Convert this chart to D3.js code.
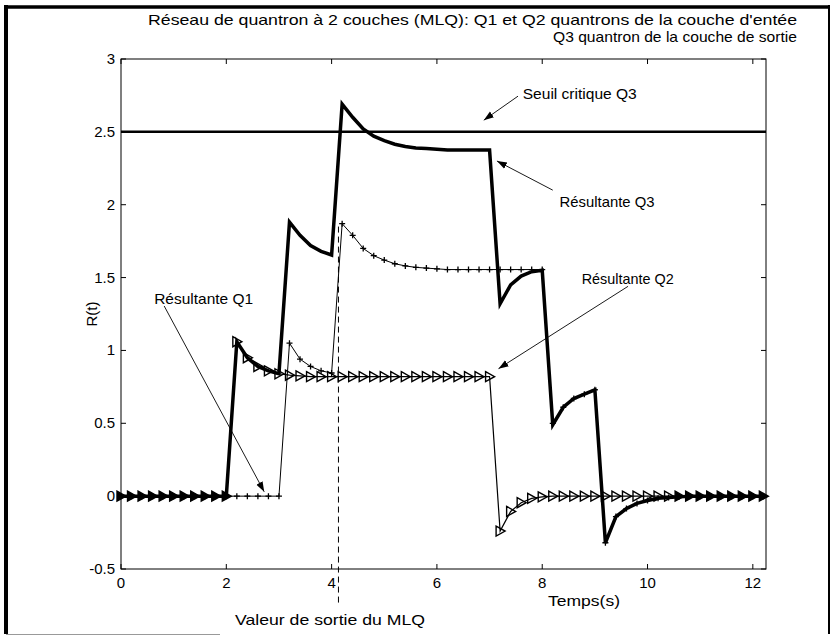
<!DOCTYPE html>
<html>
<head>
<meta charset="utf-8">
<script src="https://d3js.org/d3.v7.min.js"></script>
<style>
  body { margin: 0; background: #fff; }
  text { font-family: "Liberation Sans", Arial, sans-serif; fill: #000; }
</style>
</head>
<body>
<svg id="chart" width="834" height="637"></svg>
<script>
// temps (s), pas de 0.2 s
var temps = [0, 0.2, 0.4, 0.6, 0.8, 1, 1.2, 1.4, 1.6, 1.8, 2, 2.2, 2.4, 2.6, 2.8, 3, 3.2, 3.4, 3.6, 3.8,
  4, 4.2, 4.4, 4.6, 4.8, 5, 5.2, 5.4, 5.6, 5.8, 6, 6.2, 6.4, 6.6, 6.8, 7, 7.2, 7.4, 7.6, 7.8,
  8, 8.2, 8.4, 8.6, 8.8, 9, 9.2, 9.4, 9.6, 9.8, 10, 10.2, 10.4, 10.6, 10.8, 11, 11.2, 11.4, 11.6, 11.8,
  12, 12.2];

// Résultante Q1 (trait fin, marqueurs +)
var q1 = [0, 0, 0, 0, 0, 0, 0, 0, 0, 0, 0, 0, 0, 0, 0, 0, 1.05, 0.94, 0.89, 0.86,
  0.845, 1.87, 1.79, 1.70, 1.65, 1.62, 1.595, 1.58, 1.57, 1.565, 1.56, 1.555, 1.555, 1.555, 1.555, 1.555, 1.555, 1.555, 1.555, 1.555,
  1.555, 0.50, 0.61, 0.67, 0.70, 0.73, -0.32, -0.14, -0.085, -0.05, -0.03, -0.015, -0.01, -0.005, 0, 0, 0, 0, 0, 0,
  0, 0];

// Résultante Q2 (trait fin, triangles)
var q2 = [0, 0, 0, 0, 0, 0, 0, 0, 0, 0, 0, 1.06, 0.95, 0.89, 0.86, 0.84, 0.83, 0.825, 0.82, 0.82,
  0.82, 0.82, 0.82, 0.82, 0.82, 0.82, 0.82, 0.82, 0.82, 0.82, 0.82, 0.82, 0.82, 0.82, 0.82, 0.82, -0.24, -0.105, -0.045, -0.015,
  -0.005, 0, 0, 0, 0, 0, 0, 0, 0, 0, 0, 0, 0, 0, 0, 0, 0, 0, 0, 0,
  0, 0];

// Résultante Q3 (trait épais)
var q3 = [0, 0, 0, 0, 0, 0, 0, 0, 0, 0, 0, 1.06, 0.95, 0.89, 0.86, 0.84, 1.88, 1.79, 1.72, 1.68,
  1.655, 2.69, 2.60, 2.52, 2.47, 2.44, 2.415, 2.40, 2.39, 2.385, 2.38, 2.375, 2.375, 2.375, 2.375, 2.375, 1.32, 1.45, 1.51, 1.54,
  1.55, 0.49, 0.61, 0.67, 0.70, 0.73, -0.32, -0.14, -0.085, -0.05, -0.03, -0.015, -0.01, -0.005, 0, 0, 0, 0, 0, 0,
  0, 0];

var seuil = 2.5;
var sortieMLQ = { t: 4.13, r: 1.85 };

var xTicks = [0, 2, 4, 6, 8, 10, 12];
var yTicks = [-0.5, 0, 0.5, 1, 1.5, 2, 2.5, 3];
var yTickLabels = ["-0.5", "0", "0.5", "1", "1.5", "2", "2.5", "3"];

var titre1 = "Réseau de quantron à 2 couches (MLQ): Q1 et Q2 quantrons de la couche d'entée";
var titre2 = "Q3 quantron de la couche de sortie";

// annotations : texte (tx, ty) et flèche (x1,y1) -> (x2,y2), en unités du graphique
var notes = [
  { label: "Seuil critique Q3", w: 114, tx: 7.63, ty: 2.76, x1: 7.54, y1: 2.745, x2: 6.89, y2: 2.58 },
  { label: "Résultante Q3", w: 95, tx: 8.33, ty: 2.02, x1: 8.2, y1: 2.10, x2: 7.14, y2: 2.30 },
  { label: "Résultante Q2", w: 92, tx: 8.75, ty: 1.49, x1: 9.63, y1: 1.44, x2: 7.17, y2: 0.875 },
  { label: "Résultante Q1", w: 99, tx: 0.63, ty: 1.35, x1: 0.82, y1: 1.305, x2: 2.72, y2: 0.03 }
];

var svg = d3.select("#chart");
var mLeft = 121, mRight = 766, mTop = 59, mBottom = 569;

var x = d3.scaleLinear().domain([0, 12.25]).range([mLeft, mRight]);
var y = d3.scaleLinear().domain([-0.5, 3]).range([mBottom, mTop]);

svg.append("rect").attr("width", 834).attr("height", 637).attr("fill", "#fff");

// cadre de la figure (scan)
svg.append("line").attr("x1", 6).attr("x2", 6).attr("y1", 5).attr("y2", 634)
  .attr("stroke", "#000").attr("stroke-width", 4);
svg.append("line").attr("x1", 4).attr("x2", 830).attr("y1", 7).attr("y2", 7)
  .attr("stroke", "#000").attr("stroke-width", 3.5);
svg.append("line").attr("x1", 829).attr("x2", 829).attr("y1", 5).attr("y2", 634)
  .attr("stroke", "#000").attr("stroke-width", 2);
svg.append("line").attr("x1", 6).attr("x2", 220).attr("y1", 634.5).attr("y2", 634.5)
  .attr("stroke", "#999").attr("stroke-width", 1.2);

// boîte des axes
svg.append("rect").attr("x", mLeft).attr("y", mTop)
  .attr("width", mRight - mLeft).attr("height", mBottom - mTop)
  .attr("fill", "none").attr("stroke", "#000").attr("stroke-width", 1);

// graduations
var g = svg.append("g").attr("stroke", "#000").attr("stroke-width", 1);
xTicks.forEach(function (d) {
  g.append("line").attr("x1", x(d)).attr("x2", x(d)).attr("y1", mBottom).attr("y2", mBottom - 5);
  g.append("line").attr("x1", x(d)).attr("x2", x(d)).attr("y1", mTop).attr("y2", mTop + 5);
});
yTicks.forEach(function (d) {
  g.append("line").attr("x1", mLeft).attr("x2", mLeft + 5).attr("y1", y(d)).attr("y2", y(d));
  g.append("line").attr("x1", mRight).attr("x2", mRight - 5).attr("y1", y(d)).attr("y2", y(d));
});

svg.selectAll(".xl").data(xTicks).enter().append("text")
  .attr("x", function (d) { return x(d); }).attr("y", mBottom + 19)
  .attr("text-anchor", "middle").style("font-size", "15px")
  .text(function (d) { return d; });
svg.selectAll(".yl").data(yTicks).enter().append("text")
  .attr("x", mLeft - 6).attr("y", function (d) { return y(d) + 5; })
  .attr("text-anchor", "end").style("font-size", "15px")
  .text(function (d, i) { return yTickLabels[i]; });

// titre, étiquettes
svg.append("text").attr("x", 148).attr("y", 25).style("font-size", "15px")
  .attr("textLength", 649).attr("lengthAdjust", "spacingAndGlyphs").text(titre1);
svg.append("text").attr("x", 553).attr("y", 42).style("font-size", "15px")
  .attr("textLength", 244).attr("lengthAdjust", "spacingAndGlyphs").text(titre2);
svg.append("text").attr("transform", "translate(97," + ((mTop + mBottom) / 2) + ") rotate(-90)")
  .attr("text-anchor", "middle").style("font-size", "15px").text("R(t)");
svg.append("text").attr("x", 548).attr("y", 606).style("font-size", "15px")
  .attr("textLength", 72).attr("lengthAdjust", "spacingAndGlyphs").text("Temps(s)");
svg.append("text").attr("x", 235).attr("y", 625).style("font-size", "15px")
  .attr("textLength", 190).attr("lengthAdjust", "spacingAndGlyphs").text("Valeur de sortie du MLQ");

// seuil critique
svg.append("line").attr("x1", mLeft).attr("x2", mRight)
  .attr("y1", y(seuil)).attr("y2", y(seuil))
  .attr("stroke", "#000").attr("stroke-width", 2.5);

// ligne verticale pointillée : valeur de sortie du MLQ
svg.append("line").attr("x1", x(sortieMLQ.t)).attr("x2", x(sortieMLQ.t))
  .attr("y1", y(sortieMLQ.r)).attr("y2", y(-0.5) + 36)
  .attr("stroke", "#000").attr("stroke-width", 1).attr("stroke-dasharray", "6,4");

var line = function (vals) {
  return d3.line().x(function (d, i) { return x(temps[i]); })
    .y(function (d) { return y(d); })(vals);
};

// Q1
svg.append("path").attr("d", line(q1)).attr("fill", "none")
  .attr("stroke", "#000").attr("stroke-width", 1);
svg.selectAll(".m1").data(q1).enter().append("path")
  .attr("transform", function (d, i) { return "translate(" + x(temps[i]) + "," + y(d) + ")"; })
  .attr("d", "M-3,0H3M0,-3V3").attr("stroke", "#000").attr("stroke-width", 1.3);

// Q2
svg.append("path").attr("d", line(q2)).attr("fill", "none")
  .attr("stroke", "#000").attr("stroke-width", 1.2);

// Q3
svg.append("path").attr("d", line(q3)).attr("fill", "none")
  .attr("stroke", "#000").attr("stroke-width", 3.5).attr("stroke-linejoin", "miter");

// marqueurs de Q2 (remplis là où le trait épais de Q3 passe dessus)
svg.selectAll(".m2").data(q2).enter().append("path")
  .attr("transform", function (d, i) { return "translate(" + x(temps[i]) + "," + y(d) + ")"; })
  .attr("d", "M-4,-5L5,0L-4,5Z")
  .attr("fill", function (d, i) { return Math.abs(d - q3[i]) < 0.01 && temps[i] < 2.1 || temps[i] > 10.5 ? "#000" : "none"; })
  .attr("stroke", "#000").attr("stroke-width", 1.4);

// annotations
svg.append("defs").append("marker").attr("id", "fleche")
  .attr("viewBox", "0 0 10 10").attr("refX", 10).attr("refY", 5)
  .attr("markerWidth", 10).attr("markerHeight", 10).attr("markerUnits", "userSpaceOnUse")
  .attr("orient", "auto")
  .append("path").attr("d", "M0,1.5L10,5L0,8.5Z").attr("fill", "#000");

notes.forEach(function (n) {
  svg.append("line").attr("x1", x(n.x1)).attr("y1", y(n.y1))
    .attr("x2", x(n.x2)).attr("y2", y(n.y2))
    .attr("stroke", "#000").attr("stroke-width", 0.9).attr("marker-end", "url(#fleche)");
  svg.append("text").attr("x", x(n.tx)).attr("y", y(n.ty) + 5)
    .style("font-size", "15px").attr("textLength", n.w)
    .attr("lengthAdjust", "spacingAndGlyphs").text(n.label);
});
</script>
</body>
</html>
